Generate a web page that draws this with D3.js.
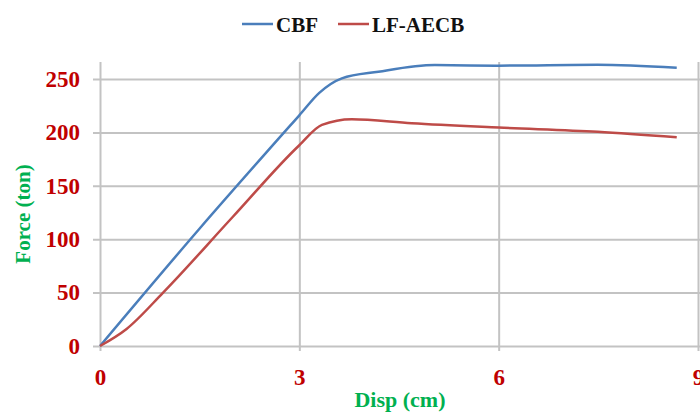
<!DOCTYPE html>
<html>
<head>
<meta charset="utf-8">
<script src="https://cdn.jsdelivr.net/npm/d3@7"></script>
<style>
	html, body { margin: 0; padding: 0; background: #fff; }
	svg { display: block; }
</style>
</head>
<body>
<script>
	/**
	 * Data
	 */
	let seriesNames = ["CBF", "LF-AECB"];
	let cbfDisp = [0, 1.5, 3.0, 3.3, 3.64, 4.19, 5.04, 6.0, 7.49, 8.68];
	let cbfForce = [0, 110, 216, 237, 250.6, 256.8, 263, 262.5, 263.4, 260.6];
	let lfDisp = [0, 0.4, 0.95, 2.0, 3.0, 3.34, 3.79, 4.69, 6.0, 7.49, 8.68];
	let lfForce = [0, 16, 50, 121, 188, 207, 212.3, 208.5, 204.5, 200.6, 195.4];
	let xTicks = [0, 3, 6, 9];
	let yTicks = [0, 50, 100, 150, 200, 250];

	/**
	 * Default Properties
	 */
	let width = 700;
	let height = 412;
	let colors = ["#4a7ebb", "#be4b48"];
	let tickColor = "#c00000";
	let titleColor = "#00b050";
	let gridColor = "#c3c3c3";
	let font = "'Liberation Serif', 'Times New Roman', serif";

	let series = [
		{ key: seriesNames[0], values: cbfDisp.map(function(d, i) { return { x: d, y: cbfForce[i] }; }) },
		{ key: seriesNames[1], values: lfDisp.map(function(d, i) { return { x: d, y: lfForce[i] }; }) }
	];

	let colorScale = d3.scaleOrdinal().domain(seriesNames).range(colors);

	// Scales
	let xScale = d3.scaleLinear().domain([0, 9]).range([100, 698]);
	let yScale = d3.scaleLinear().domain([0, 250]).range([346, 79]);

	let svg = d3.select("body").append("svg")
		.attr("width", width)
		.attr("height", height)
		.style("font-family", font);

	// Horizontal gridlines (with small left ticks)
	svg.append("g")
		.attr("class", "y-grid")
		.attr("transform", "translate(700,0)")
		.call(d3.axisLeft(yScale).tickValues(yTicks).tickSize(700 - 93).tickFormat(""))
		.call(function(g) { g.select(".domain").remove(); })
		.selectAll("line")
		.attr("stroke", gridColor)
		.attr("stroke-width", 2);

	// Vertical gridlines (with small bottom ticks)
	svg.append("g")
		.attr("class", "x-grid")
		.attr("transform", "translate(0,351)")
		.call(d3.axisTop(xScale).tickValues(xTicks).tickSize(351 - 62).tickFormat(""))
		.call(function(g) { g.select(".domain").remove(); })
		.selectAll("line")
		.attr("stroke", gridColor)
		.attr("stroke-width", 2);

	// Y tick labels
	let yAxis = svg.append("g")
		.attr("class", "y-axis")
		.attr("transform", "translate(93,0)")
		.call(d3.axisLeft(yScale).tickValues(yTicks).tickSize(0).tickPadding(13));
	yAxis.select(".domain").remove();
	yAxis.selectAll("text")
		.attr("fill", tickColor)
		.style("font-family", font)
		.style("font-size", "23px")
		.style("font-weight", "bold");

	// X tick labels
	let xAxis = svg.append("g")
		.attr("class", "x-axis")
		.attr("transform", "translate(0,351)")
		.call(d3.axisBottom(xScale).tickValues(xTicks).tickSize(0).tickPadding(18));
	xAxis.select(".domain").remove();
	xAxis.selectAll("text")
		.attr("fill", tickColor)
		.style("font-family", font)
		.style("font-size", "23px")
		.style("font-weight", "bold");

	// Axis titles
	svg.append("text")
		.attr("x", 400)
		.attr("y", 407)
		.attr("text-anchor", "middle")
		.attr("fill", titleColor)
		.style("font-size", "22px")
		.style("font-weight", "bold")
		.text("Disp (cm)");

	svg.append("text")
		.attr("transform", "translate(30,214) rotate(-90)")
		.attr("text-anchor", "middle")
		.attr("fill", titleColor)
		.style("font-size", "21px")
		.style("font-weight", "bold")
		.text("Force (ton)");

	// Line Generator
	let line = d3.line()
		.x(function(d) { return xScale(d.x); })
		.y(function(d) { return yScale(d.y); })
		.curve(d3.curveMonotoneX);

	svg.append("g")
		.attr("class", "series")
		.selectAll("path")
		.data(series)
		.enter()
		.append("path")
		.attr("fill", "none")
		.attr("stroke", function(d) { return colorScale(d.key); })
		.attr("stroke-width", 2.5)
		.attr("stroke-linejoin", "round")
		.attr("d", function(d) { return line(d.values); });

	// Legend
	let legendX = [242, 338];
	let legend = svg.append("g")
		.attr("class", "legend")
		.selectAll("g")
		.data(seriesNames)
		.enter()
		.append("g")
		.attr("transform", function(d, i) { return "translate(" + legendX[i] + ",24)"; });

	legend.append("line")
		.attr("x1", 0)
		.attr("x2", 31)
		.attr("stroke", function(d) { return colorScale(d); })
		.attr("stroke-width", 2.5);

	legend.append("text")
		.attr("x", 34)
		.attr("y", 7.5)
		.attr("fill", "#111")
		.style("font-size", "21px")
		.style("font-weight", "bold")
		.text(function(d) { return d; });
</script>
</body>
</html>
